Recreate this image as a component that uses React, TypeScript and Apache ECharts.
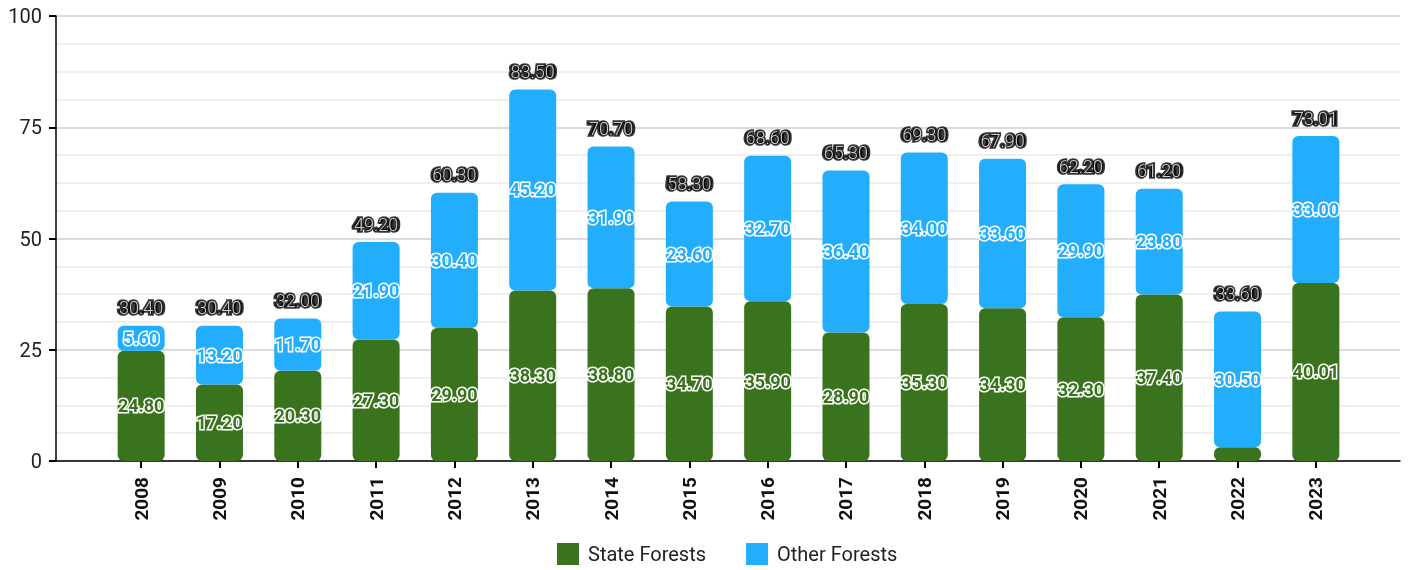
import React, { useEffect, useRef } from "react";
import * as echarts from "echarts";

const years = ["2008", "2009", "2010", "2011", "2012", "2013", "2014", "2015", "2016", "2017", "2018", "2019", "2020", "2021", "2022", "2023"];
const stateForests = [24.8, 17.2, 20.3, 27.3, 29.9, 38.3, 38.8, 34.7, 35.9, 28.9, 35.3, 34.3, 32.3, 37.4, 3.1, 40.01];
const otherForests = [5.6, 13.2, 11.7, 21.9, 30.4, 45.2, 31.9, 23.6, 32.7, 36.4, 34.0, 33.6, 29.9, 23.8, 30.5, 33.0];
const totals = [30.4, 30.4, 32.0, 49.2, 60.3, 83.5, 70.7, 58.3, 68.6, 65.3, 69.3, 67.9, 62.2, 61.2, 33.6, 73.01];

const GREEN = "#3A731E";
const BLUE = "#22AEFC";
const FONT = "Roboto";

export default function App() {
  const ref = useRef<HTMLDivElement>(null);
  useEffect(() => {
    if (!ref.current) return;
    const chart = echarts.init(ref.current, null, { renderer: "svg" });
    const innerLabel = (color: string) => ({
      show: true,
      position: "inside",
      formatter: (p: any) => Number(p.value).toFixed(2),
      color,
      fontFamily: FONT,
      fontWeight: "bold",
      fontSize: 18,
      textBorderColor: "#fff",
      textBorderWidth: 3,
    });
    const totalLayer = (name: string, label: any) => ({
      name,
      type: "scatter",
      xAxisIndex: 0,
      yAxisIndex: 0,
      symbolSize: 0,
      silent: true,
      z: name === "TotalTop" ? 11 : 10,
      label: {
        show: true,
        position: "top",
        distance: 9,
        formatter: (p: any) => Number(p.value).toFixed(2),
        fontFamily: FONT,
        fontSize: 18,
        ...label,
      },
      data: totals,
    });
    chart.setOption({
      animation: false,
      textStyle: { fontFamily: FONT },
      grid: [
        { left: 102, right: 54, top: 16, bottom: 109, containLabel: false },
        { left: 56, right: 9, top: 16, bottom: 109, containLabel: false },
      ],
      legend: {
        bottom: 0,
        left: 552,
        data: ["State Forests", "Other Forests"],
        itemWidth: 22,
        itemHeight: 22,
        itemGap: 40,
        icon: "rect",
        textStyle: { fontFamily: FONT, fontSize: 20, color: "#222", padding: [0, 0, 0, 4] },
      },
      xAxis: [
        {
          type: "category",
          gridIndex: 0,
          data: years,
          boundaryGap: true,
          axisLine: { show: false },
          axisTick: { show: true, alignWithLabel: true, length: 7, lineStyle: { color: "#000", width: 2 } },
          axisLabel: {
            rotate: 90,
            margin: 16,
            fontFamily: FONT,
            fontWeight: "bold",
            fontSize: 19,
            color: "#111",
          },
        },
        {
          type: "value",
          gridIndex: 1,
          min: 0,
          max: 1,
          axisLine: { show: true, lineStyle: { color: "#000", width: 1.5 } },
          axisTick: { show: false },
          axisLabel: { show: false },
          splitLine: { show: false },
        },
      ],
      yAxis: [
        {
          type: "value",
          gridIndex: 0,
          min: 0,
          max: 100,
          interval: 25,
          axisLine: { show: false },
          axisTick: { show: false },
          axisLabel: { show: false },
          splitLine: { show: false },
        },
        {
          type: "value",
          gridIndex: 1,
          min: 0,
          max: 100,
          interval: 25,
          axisLine: { show: true, lineStyle: { color: "#000", width: 1.5 } },
          axisTick: { show: true, length: 7, lineStyle: { color: "#000", width: 2 } },
          axisLabel: { fontFamily: FONT, fontSize: 20, color: "#222", margin: 14 },
          splitLine: { show: true, lineStyle: { color: "#cfcfcf", width: 1.5 } },
          minorTick: { show: false, splitNumber: 4 },
          minorSplitLine: { show: true, lineStyle: { color: "#eaeaea", width: 1.5 } },
        },
      ],
      series: [
        {
          name: "State Forests",
          type: "bar",
          stack: "total",
          xAxisIndex: 0,
          yAxisIndex: 0,
          barWidth: 47,
          z: 3,
          itemStyle: { color: GREEN, borderRadius: 6 },
          label: innerLabel(GREEN),
          data: stateForests.map((v) => ({
            value: v,
            label: v < 5 ? { show: false } : undefined,
          })),
        },
        {
          name: "Other Forests",
          type: "bar",
          stack: "total",
          xAxisIndex: 0,
          yAxisIndex: 0,
          barWidth: 47,
          z: 3,
          itemStyle: { color: BLUE, borderRadius: 6 },
          label: innerLabel(BLUE),
          data: otherForests,
        },
        totalLayer("TotalBase", {
          color: "#000",
          fontWeight: "bold",
          textBorderColor: "#000",
          textBorderWidth: 3.5,
        }),
        totalLayer("TotalTop", {
          color: "#fff",
          fontWeight: 300,
        }),
      ],
    });
    return () => chart.dispose();
  }, []);
  return <div ref={ref} style={{ position: "fixed", left: 0, top: 0, width: 1409, height: 570 }} />;
}
